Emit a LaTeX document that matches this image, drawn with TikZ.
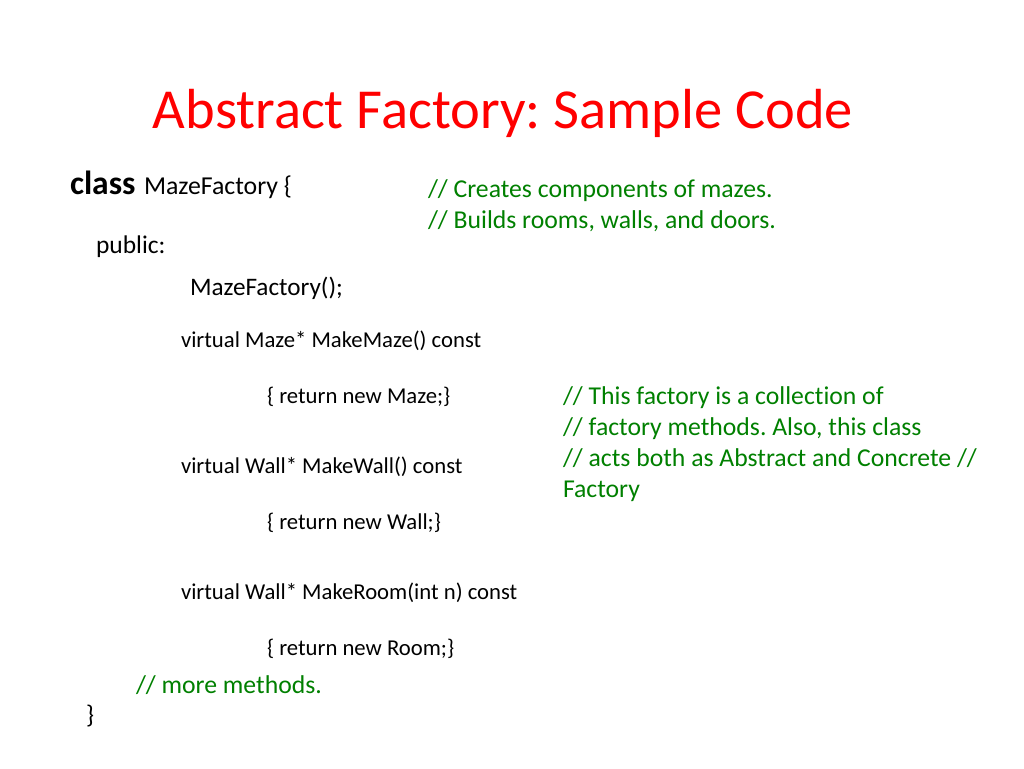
\documentclass[tikz,border=0pt]{standalone}
\usepackage{fontspec}
\setmainfont{Carlito}[Ligatures=NoCommon]
\definecolor{titlered}{RGB}{255,0,0}
\definecolor{cmtgreen}{RGB}{0,128,0}
\begin{document}
\frenchspacing
\begin{tikzpicture}[x=1pt,y=-1pt,
  txt/.style={anchor=base west,inner sep=0pt,outer sep=0pt,text=black},
  cmt/.style={txt,text=cmtgreen,font=\fontsize{25.7}{30}\selectfont},
  code/.style={txt,font=\fontsize{22.7}{27}\selectfont}]
\useasboundingbox[fill=white] (0,0) rectangle (1024,768);
\node[anchor=base,inner sep=0pt,text=titlered,font=\fontsize{56.5}{66}\selectfont] (title) at (503,128) {Abstract Factory: Sample Code};
\node[txt,font=\fontsize{33.5}{40}\selectfont\bfseries] (cls) at (70,194) {class};
\node[txt,font=\fontsize{25.8}{30}\selectfont] (mf) at (144,194) {MazeFactory \{};
\node[txt,font=\fontsize{25.5}{30}\selectfont] (pub) at (96,253) {public:};
\node[txt,font=\fontsize{25.2}{30}\selectfont] (ctor) at (190,295) {MazeFactory();};
\node[code] (m1) at (181,347) {virtual Maze* MakeMaze() const};
\node[code] (r1) at (267,403) {\{ return new Maze;\}};
\node[code] (m2) at (181,473) {virtual Wall* MakeWall() const};
\node[code] (r2) at (267,529) {\{ return new Wall;\}};
\node[code] (m3) at (181,599) {virtual Wall* MakeRoom(int n) const};
\node[code] (r3) at (267,655) {\{ return new Room;\}};
\node[cmt] (more) at (136,693) {// more methods.};
\node[txt,font=\fontsize{25.5}{30}\selectfont] (close) at (86,723) {\}};
\node[cmt] (c1) at (428,197) {// Creates components of mazes.};
\node[cmt] (c2) at (428,228) {// Builds rooms, walls, and doors.};
\node[cmt] (d1) at (563,404) {// This factory is a collection of};
\node[cmt] (d2) at (563,435) {// factory methods. Also, this class};
\node[cmt] (d3) at (563,466) {// acts both as Abstract and Concrete //};
\node[cmt] (d4) at (563,497) {Factory};
\end{tikzpicture}
\end{document}
